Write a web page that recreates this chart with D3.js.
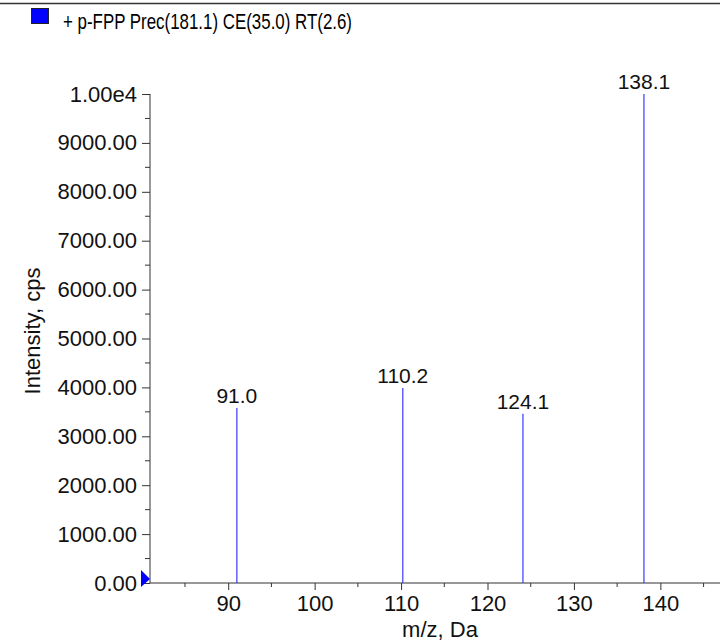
<!DOCTYPE html>
<html>
<head>
<meta charset="utf-8">
<script src="https://cdn.jsdelivr.net/npm/d3@7"></script>
<style>
  body { margin: 0; background: #fff; }
  svg { display: block; font-family: "Liberation Sans", Arial, sans-serif; }
</style>
</head>
<body>
<div id="chart"></div>
<script>
// spectrum peaks
const peakMz = [91.0, 110.2, 124.1, 138.1];
const peakIntensity = [3580, 3990, 3460, 10000];
const peakLabels = ["91.0", "110.2", "124.1", "138.1"];
const yTicks = [0, 1000, 2000, 3000, 4000, 5000, 6000, 7000, 8000, 9000, 10000];
const yTickLabels = ["0.00", "1000.00", "2000.00", "3000.00", "4000.00", "5000.00",
  "6000.00", "7000.00", "8000.00", "9000.00", "1.00e4"];
const xTicks = [90, 100, 110, 120, 130, 140];
const legendText = "+ p-FPP Prec(181.1) CE(35.0) RT(2.6)";

const width = 720, height = 641;
const svg = d3.select("#chart").append("svg")
  .attr("width", width).attr("height", height);

const x = d3.scaleLinear().domain([80.95, 146.9]).range([150, 720]);
const y = d3.scaleLinear().domain([0, 10000]).range([583, 94]);

// top border
svg.append("line")
  .attr("x1", 0).attr("x2", width).attr("y1", 3.5).attr("y2", 3.5)
  .attr("stroke", "#333").attr("stroke-width", 1.5);

// legend
svg.append("rect")
  .attr("x", 31.5).attr("y", 8.5).attr("width", 17).attr("height", 15)
  .attr("fill", "#0000ff").attr("stroke", "#222").attr("stroke-width", 1);
svg.append("text")
  .attr("x", 63).attr("y", 28.5)
  .attr("font-size", 22)
  .attr("textLength", 289).attr("lengthAdjust", "spacingAndGlyphs")
  .text(legendText);

// y axis
const yAxis = d3.axisLeft(y).tickValues(yTicks)
  .tickFormat((d, i) => yTickLabels[i]).tickSize(8).tickPadding(5);
const yG = svg.append("g").attr("transform", "translate(150,0)").call(yAxis);
yG.select(".domain").attr("d", `M0,${y(10000)}V${y(0)}`);
yG.selectAll(".tick line").attr("stroke", "#333");
yG.select(".domain").attr("stroke", "#333");
yG.selectAll("text").attr("font-size", 22).attr("font-family", null).attr("fill", "#111");
// minor y ticks
svg.append("g").selectAll("line")
  .data(d3.range(500, 10000, 1000)).join("line")
  .attr("x1", 145).attr("x2", 150)
  .attr("y1", d => y(d)).attr("y2", d => y(d))
  .attr("stroke", "#333");

// x axis
const xAxis = d3.axisBottom(x).tickValues(xTicks).tickSize(7).tickPadding(5);
const xG = svg.append("g").attr("transform", "translate(0,583)").call(xAxis);
xG.select(".domain").attr("d", `M150,0H720`).attr("stroke", "#333");
xG.selectAll(".tick line").attr("stroke", "#333");
xG.selectAll("text").attr("font-size", 22).attr("font-family", null).attr("fill", "#111");
svg.append("g").selectAll("line")
  .data(d3.range(85, 147, 10)).join("line")
  .attr("x1", d => x(d)).attr("x2", d => x(d))
  .attr("y1", 583).attr("y2", 587)
  .attr("stroke", "#333");

// axis titles
svg.append("text")
  .attr("transform", "translate(40,331) rotate(-90)")
  .attr("text-anchor", "middle").attr("font-size", 22).attr("fill", "#111")
  .text("Intensity, cps");
svg.append("text")
  .attr("x", 440).attr("y", 637)
  .attr("text-anchor", "middle").attr("font-size", 22).attr("fill", "#111")
  .text("m/z, Da");

// zero marker
svg.append("path")
  .attr("d", `M141,${y(0) - 13}L150,${y(0) - 4}L141,${y(0) + 4}Z`)
  .attr("fill", "#0000ff");

// peaks
const peaks = peakMz.map((mz, i) => ({ mz, v: peakIntensity[i], label: peakLabels[i] }));
svg.append("g").selectAll("line")
  .data(peaks).join("line")
  .attr("x1", d => x(d.mz)).attr("x2", d => x(d.mz))
  .attr("y1", y(0)).attr("y2", d => y(d.v))
  .attr("stroke", "#3a3aff").attr("stroke-width", 1.2);
svg.append("g").selectAll("text")
  .data(peaks).join("text")
  .attr("x", d => x(d.mz)).attr("y", d => y(d.v) - 5)
  .attr("text-anchor", "middle").attr("font-size", 21).attr("fill", "#111")
  .text(d => d.label);
</script>
</body>
</html>
